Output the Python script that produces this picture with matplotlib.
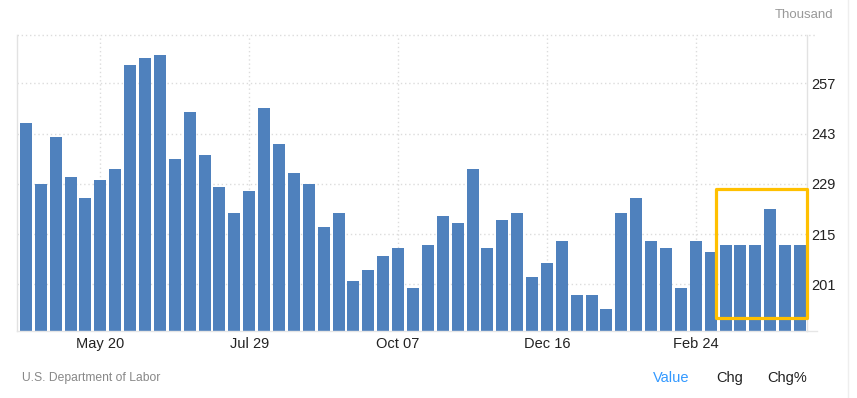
import matplotlib
matplotlib.use("Agg")
import matplotlib.pyplot as plt
from matplotlib.patches import Rectangle
from matplotlib.lines import Line2D
import numpy as np
import pandas as pd

plt.rcParams['font.family'] = ['Liberation Sans', 'DejaVu Sans']

# Weekly initial jobless claims (thousand), week ending Apr 15 2023 .. Apr 13 2024
weeks = pd.date_range("2023-04-15", periods=53, freq="7D")
claims = [246, 229, 242, 231, 225, 230, 233, 262, 264, 265,
          236, 249, 237, 228, 221, 227, 250, 240, 232, 229,
          217, 221, 202, 205, 209, 211, 200, 212, 220, 218,
          233, 211, 219, 221, 203, 207, 213, 198, 198, 194,
          221, 225, 213, 211, 200, 213, 210, 212, 212, 212,
          222, 212, 212]
tick_positions = [5, 15, 25, 35, 45]
tick_labels = ["May 20", "Jul 29", "Oct 07", "Dec 16", "Feb 24"]
y_ticks = [201, 215, 229, 243, 257]
highlight_start, highlight_end = 47, 52
highlight_low, highlight_high = 191.5, 227.5

W, H = 857, 398
fig = plt.figure(figsize=(W / 100, H / 100), dpi=100)
ax = fig.add_axes([17.3 / W, 1 - 331 / H, (807.3 - 17.3) / W, (331 - 35.2) / H])

x = np.arange(len(claims))
ax.bar(x, claims, width=0.806, color="#4F81BD", zorder=2)

ax.set_xlim(-0.58, 52.49)
ax.set_ylim(188.0, 270.4)

ax.set_xticks(tick_positions)
ax.set_xticklabels(tick_labels)
ax.set_yticks(y_ticks)
ax.yaxis.tick_right()
ax.tick_params(axis="both", length=0, labelsize=10.5, colors="#222222")
ax.tick_params(axis="x", pad=4)
ax.tick_params(axis="y", pad=3.2)

ax.grid(True, color="#dcdcdc", linestyle=(0, (1, 2)), linewidth=1, zorder=0)
ax.set_axisbelow(True)

ax.spines["top"].set_visible(False)
ax.spines["left"].set_color("#e2e2e2")
ax.spines["right"].set_color("#e2e2e2")
ax.spines["bottom"].set_color("#e6e6e6")
for s in ["left", "right", "bottom"]:
    ax.spines[s].set_linewidth(1)

# top dotted line and bottom line extension
ext = (817 - 17.3) / (807.3 - 17.3)
ax.add_line(Line2D([0, ext], [1, 1], transform=ax.transAxes, color="#dcdcdc",
                   linestyle=(0, (1, 2)), linewidth=1, clip_on=False))
ax.add_line(Line2D([1, ext], [0, 0], transform=ax.transAxes, color="#e6e6e6",
                   linewidth=1, clip_on=False))

# highlight box
rect = Rectangle((highlight_start - 0.67, highlight_low),
                 (highlight_end + 0.47) - (highlight_start - 0.67),
                 highlight_high - highlight_low,
                 fill=False, edgecolor="#FFC000", linewidth=2.3,
                 joinstyle="round", zorder=4, clip_on=False)
ax.add_patch(rect)

# outer right border
fig.add_artist(Line2D([847.5 / W, 847.5 / W], [0, 1], transform=fig.transFigure,
                      color="#eeeeee", linewidth=1))

fig.text(833 / W, 1 - 15.5 / H, "Thousand", ha="right", va="center",
         fontsize=9.5, color="#999999")
fig.text(22.3 / W, 1 - 377.5 / H, "U.S. Department of Labor", ha="left", va="center",
         fontsize=8.7, color="#888888")
fig.text(671.5 / W, 1 - 378 / H, "Value", ha="center", va="center",
         fontsize=10.5, color="#3399ff")
fig.text(729.3 / W, 1 - 378 / H, "Chg", ha="center", va="center",
         fontsize=10.5, color="#222222")
fig.text(787.5 / W, 1 - 378 / H, "Chg%", ha="center", va="center",
         fontsize=10.5, color="#222222")

fig.savefig("out.png", dpi=100, facecolor="white")
